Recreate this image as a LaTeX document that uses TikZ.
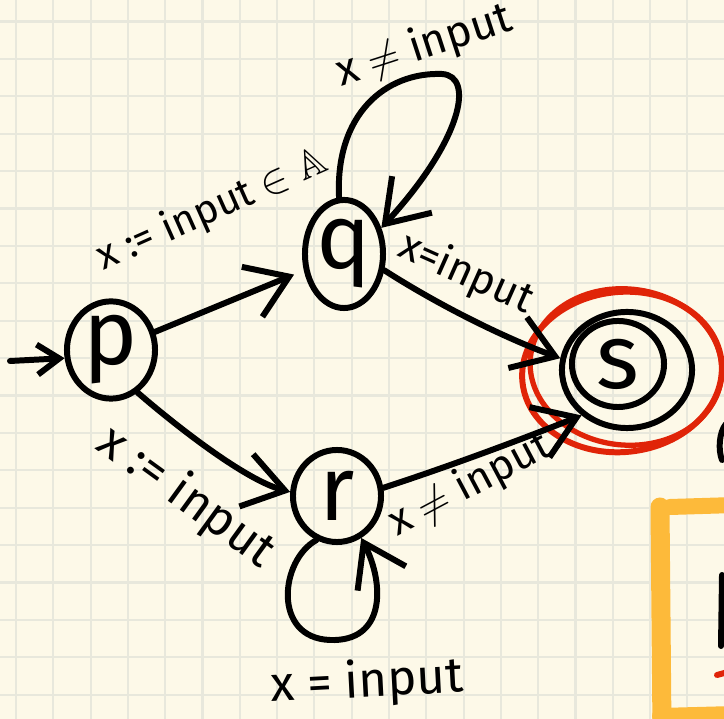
\documentclass[tikz,border=0pt]{standalone}
\usepackage{fontspec}
\usepackage{amssymb}
\setmainfont{Fira Sans}
\usetikzlibrary{arrows.meta,shapes.geometric}
\definecolor{paper}{RGB}{253,249,232}
\definecolor{gridc}{RGB}{232,232,220}
\definecolor{ink}{RGB}{0,0,0}
\definecolor{redink}{RGB}{224,36,8}
\definecolor{orangeink}{RGB}{253,186,58}
\begin{document}
\begin{tikzpicture}[x=0.01cm,y=-0.01cm,
  state/.style={draw=ink, line width=1.7pt, ellipse, inner sep=0pt, font=\fontsize{26}{28}\selectfont},
  edge/.style={draw=ink, line width=1.7pt, line cap=round, line join=round, -{Straight Barb[length=4mm,width=5.4mm]}},
  initedge/.style={draw=ink, line width=1.7pt, line cap=round, line join=round, -{Straight Barb[length=2.2mm,width=3mm]}},
  lbl/.style={font=\fontsize{14}{16}\selectfont, inner sep=0pt},
]
\fill[paper] (0,0) rectangle (724,719);
\useasboundingbox (0,0) rectangle (724,719);
\foreach \i in {0,...,19} \draw[gridc, line width=0.6pt] ({16+37.3*\i},0) -- ({16+37.3*\i},719);
\foreach \j in {0,...,18} \draw[gridc, line width=0.6pt] (0,{21.5+37.4*\j}) -- (724,{21.5+37.4*\j});

% orange box fragment
\draw[orangeink, line width=0.19cm, line cap=round] (662,730) -- (660,507);
\draw[orangeink, line width=0.16cm, line cap=round] (670,507) -- (735,505);
\draw[orangeink, line width=0.16cm, line cap=round] (660,716) -- (735,714);
% edge fragments on the right
\draw[ink, line width=1.7pt, line cap=round] (726,424) .. controls (719,432) and (718,450) .. (722,460);
\draw[ink, line width=1.7pt, line cap=round] (722,575) -- (721,646);
\draw[redink, line width=1.7pt, line cap=round] (717,675) -- (728,672);

% states
\node[state, minimum width=0.88cm, minimum height=0.88cm] (p) at (111,350) {p};
\node[state, minimum width=0.78cm, minimum height=1.08cm] (q) at (344,254) {q};
\node[state, minimum width=0.88cm, minimum height=0.92cm] (r) at (337,496) {r};
\node[state, minimum width=1.30cm, minimum height=1.16cm] (s) at (627,370) {};
\node[state, minimum width=0.92cm, minimum height=0.86cm] (sin) at (618,364) {s};

% red highlight
\draw[redink, line width=1.7pt] (622,372) ellipse [x radius=1.0cm, y radius=0.8cm, rotate=6];
\draw[redink, line width=1.5pt] (626,367) ellipse [x radius=0.96cm, y radius=0.78cm, rotate=-6];

% edges
\coordinate (start) at (10,361);
\draw[initedge] (start) -- (p.190);
\draw[edge, shorten >=3pt] (p) -- (q);
\draw[edge] (q.-22) .. controls (440,306) and (505,338) .. (s.170);
\draw[edge] (p.-58) .. controls (175,425) and (245,480) .. (r.175);
\draw[edge] (r.10) .. controls (450,466) and (520,440) .. (s.-135);
\draw[edge] (q.95) .. controls (335,115) and (385,72) .. (442,74) .. controls (475,76) and (462,140) .. (q.35);
\draw[edge] (r.245) .. controls (280,560) and (272,638) .. (330,640) .. controls (385,642) and (385,585) .. (r.300);

% labels
\node[lbl, font=\fontsize{12.5}{14}\selectfont, rotate=18] (l1) at (424,46) {x $\neq$ input};
\node[lbl, font=\fontsize{11.5}{13}\selectfont, rotate=24] (l2) at (212,210) {x := input $\in\mathbb{A}$};
\node[lbl, font=\fontsize{12}{14}\selectfont, rotate=-24] (l3) at (466,274) {x=input};
\node[lbl, rotate=-36] (l4) at (186,497) {x := input};
\node[lbl, font=\fontsize{12}{14}\selectfont, rotate=28] (l5) at (470,485) {x $\neq$ input};
\node[lbl, rotate=3] (l6) at (367,683) {x = input};
\end{tikzpicture}
\end{document}
